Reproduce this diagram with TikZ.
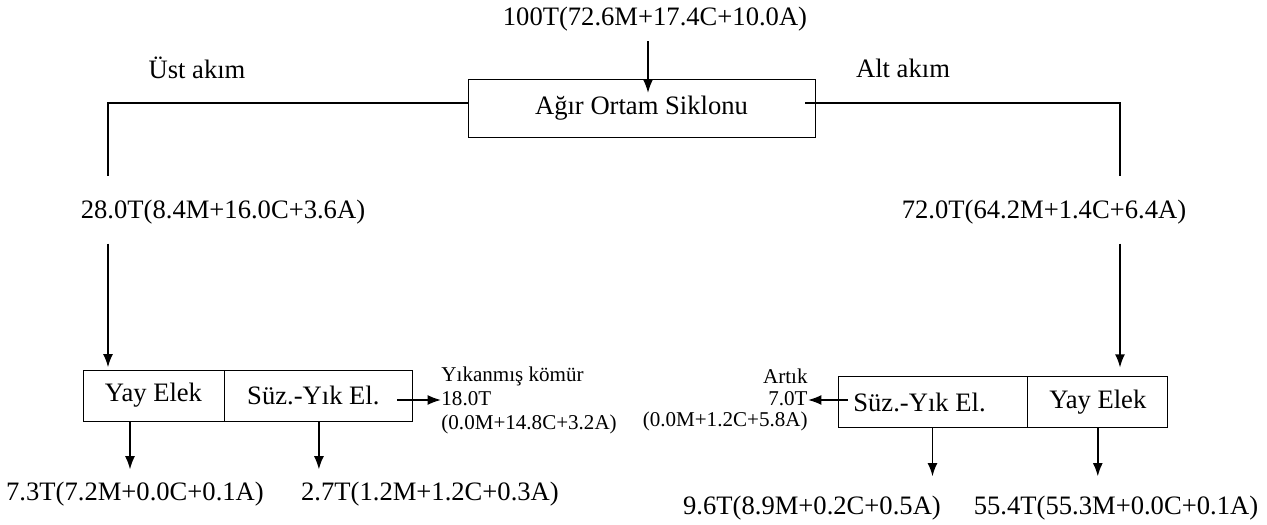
\documentclass[tikz,border=0pt]{standalone}
\usepackage{fontspec}
\setmainfont{Liberation Serif}
\usetikzlibrary{positioning, arrows.meta}
\tikzset{
	unit/.style={draw, rectangle, inner sep=2pt, font=\fontsize{12}{14}\selectfont},
	flow/.style={inner sep=0pt, font=\fontsize{12}{14}\selectfont},
	% small texts beside the side outputs
	note/.style={inner sep=0pt, font=\fontsize{9.5}{10.8}\selectfont},
}

\begin{document}
\begin{tikzpicture}[x=0.451pt, y=-0.451pt]
	\useasboundingbox (0,0) rectangle (1267,525);

	\node (feed) [flow] at (655,19) {100T(72.6M+17.4C+10.0A)};
	\node (cyc) [unit, minimum width=156.5pt, minimum height=26.2pt] at (641.5,108) {Ağır Ortam Siklonu};
	\coordinate (feedin) at (648,93);

	\node (ust) [flow] at (197,68) {Üst akım};
	\node (alt) [flow] at (903,68) {Alt akım};
	\node (over) [flow] at (223,212) {28.0T(8.4M+16.0C+3.6A)};
	\node (under) [flow] at (1044,212) {72.0T(64.2M+1.4C+6.4A)};
	\coordinate (lbend) at (108,176);
	\coordinate (rbend) at (1120,176);

	% upper stream screens
	\node (lyay) [unit, minimum width=63.6pt, minimum height=23pt] at (153.5,395.5) {Yay Elek};
	\node (lsuz) [unit, minimum width=84.8pt, minimum height=23pt, right=0pt of lyay] {Süz.-Yık El.\hspace*{5pt}};
	\node (clean) [note, anchor=west, align=left] at (441,400) {Yıkanmış kömür\\18.0T\\(0.0M+14.8C+3.2A)};
	\node (lo1) [flow] at (135,494) {7.3T(7.2M+0.0C+0.1A)};
	\node (lo2) [flow] at (430,494) {2.7T(1.2M+1.2C+0.3A)};

	% lower stream screens
	\node (rsuz) [unit, minimum width=85.2pt, minimum height=22.6pt] at (932.5,402) {Süz.-Yık El.\hspace*{11.7pt}};
	\node (ryay) [unit, minimum width=63.1pt, minimum height=22.6pt, right=0pt of rsuz] {Yay Elek};
	\node (rest) [note, anchor=east, align=right, font=\fontsize{9.5}{9.7}\selectfont] at (808,400) {Artık\\7.0T\\(0.0M+1.2C+5.8A)};
	\node (ro1) [flow] at (812,508) {9.6T(8.9M+0.2C+0.5A)};
	\node (ro2) [flow] at (1116,508) {55.4T(55.3M+0.0C+0.1A)};

	\begin{scope}[thick, black, >={Latex[length=6pt, width=4.5pt]}]
		\draw[->, shorten <=4.5pt] (feed.south -| feedin) -- (feedin);
		\draw ([yshift=2.25pt]cyc.west) -| (lbend);
		\draw ([xshift=-4.5pt, yshift=2.25pt]cyc.east) -| (rbend);
		\draw[->, shorten <=8.6pt, shorten >=1pt] (over.south -| lbend) -- (lyay.north -| lbend);
		\draw[->, shorten <=8.6pt, shorten >=4pt] (under.south -| rbend) -- (ryay.north -| rbend);
		\draw[->, shorten >=5.4pt] ([xshift=-10.6pt]lyay.south) -- ([xshift=-10.6pt]lyay.south |- lo1.north);
		\draw[->, shorten >=5.4pt] (lsuz.south) -- (lsuz.south |- lo2.north);
		\draw[->, shorten >=8.6pt] (rsuz.south) -- (rsuz.south |- ro1.north);
		\draw[->, shorten >=8.6pt] (ryay.south) -- (ryay.south |- ro2.north);
		\draw[->, shorten <=-7.2pt] (lsuz.east |- clean.west) -- (clean.west);
		\draw[->, shorten <=-4.5pt] (rsuz.west |- rest.east) -- (rest.east);
	\end{scope}
\end{tikzpicture}
\end{document}
